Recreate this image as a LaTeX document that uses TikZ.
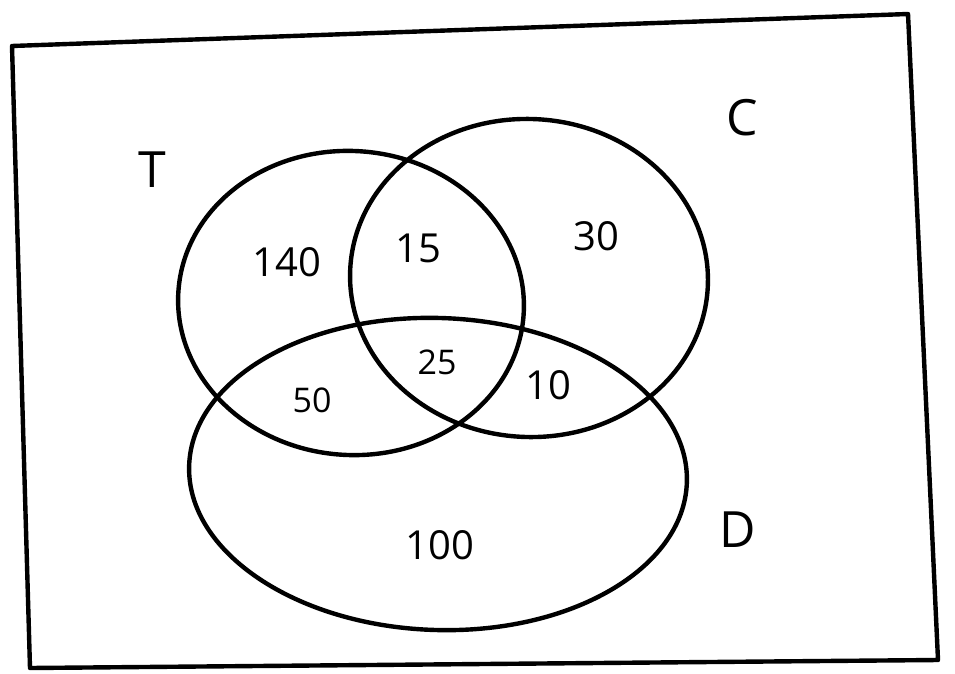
\documentclass[tikz,border=0pt]{standalone}
\usepackage{fontspec}
\setmainfont{Open Sans}
\usetikzlibrary{shapes.geometric}
\begin{document}
\begin{tikzpicture}[x=1pt,y=-1pt,
  pen/.style={line width=4.4pt,line cap=round,line join=round,black},
  setring/.style={pen,draw,ellipse,inner sep=0pt},
  setname/.style={font=\fontsize{50}{50}\selectfont},
  count/.style={font=\fontsize{40}{40}\selectfont}]
\useasboundingbox (0,0) rectangle (955,674);
% universe frame
\coordinate (tl) at (12,46);
\coordinate (tr) at (908,14);
\coordinate (br) at (938,660);
\coordinate (bl) at (30,668);
\draw[pen] (tl) -- (tr) -- (br) -- (bl) -- cycle;
% the three sets
\node[setring,minimum width=346pt,minimum height=304pt,rotate=-4] (T) at (351,303) {};
\node[setring,minimum width=358pt,minimum height=318pt,rotate=-3] (C) at (529,278) {};
\node[setring,minimum width=498pt,minimum height=312pt,rotate=-2] (D) at (438,474) {};
% set names
\node[setname] (tn) at (152,170) {T};
\node[setname] (cn) at (742,118) {C};
\node[setname] (dn) at (738,530) {D};
% region counts
\node[count] (r1) at (287,262) {140};
\node[count] (r2) at (418,248) {15};
\node[count] (r3) at (596,236) {30};
\node[count,font=\fontsize{34}{34}\selectfont] (r4) at (437,362) {25};
\node[count,font=\fontsize{34}{34}\selectfont] (r5) at (312,400) {50};
\node[count] (r6) at (548,385) {10};
\node[count] (r7) at (440,545) {100};
\end{tikzpicture}
\end{document}
